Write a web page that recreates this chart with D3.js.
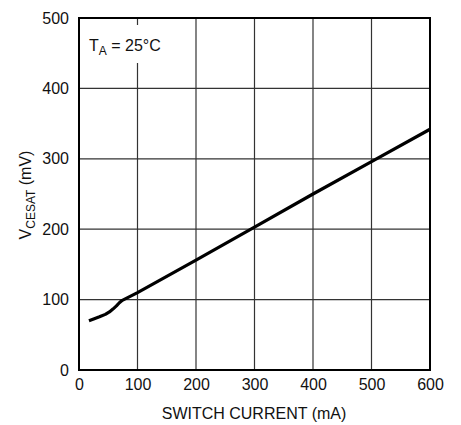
<!DOCTYPE html>
<html>
<head>
<meta charset="utf-8">
<script src="https://cdn.jsdelivr.net/npm/d3@7"></script>
<style>
  html, body { margin: 0; padding: 0; background: #fff; }
  svg { display: block; }
  text { font-family: "Liberation Sans", Arial, sans-serif; fill: #111; }
</style>
</head>
<body>
<svg id="chart" width="461" height="425"></svg>
<script>
// Switch current (mA) vs. collector-emitter saturation voltage (mV)
const switchCurrent = [17, 25, 35, 45, 52, 58, 64, 69, 74, 100, 200, 300, 400, 500, 600];
const vcesat        = [70, 72.5, 75.5, 79, 82.5, 86.5, 91, 95.5, 99, 110, 156, 203, 250, 296, 342];
const xTicks = [0, 100, 200, 300, 400, 500, 600];
const yTicks = [0, 100, 200, 300, 400, 500];

const svg = d3.select("#chart");
const plotL = 79, plotR = 430, plotT = 18, plotB = 370;

const x = d3.scaleLinear().domain([0, 600]).range([plotL, plotR]);
const y = d3.scaleLinear().domain([0, 500]).range([plotB, plotT]);

// grid
const grid = svg.append("g").attr("stroke", "#333").attr("stroke-width", 1.2);
grid.selectAll(".vx").data(xTicks.slice(1, -1)).join("line")
  .attr("x1", d => x(d)).attr("x2", d => x(d))
  .attr("y1", plotT).attr("y2", plotB);
grid.selectAll(".hy").data(yTicks.slice(1, -1)).join("line")
  .attr("x1", plotL).attr("x2", plotR)
  .attr("y1", d => y(d)).attr("y2", d => y(d));

// axes (labels only, frame drawn separately)
const xAxis = svg.append("g").attr("transform", `translate(0,${plotB})`)
  .call(d3.axisBottom(x).tickValues(xTicks).tickSize(0).tickPadding(9));
const yAxis = svg.append("g").attr("transform", `translate(${plotL},0)`)
  .call(d3.axisLeft(y).tickValues(yTicks).tickSize(0).tickPadding(10));
[xAxis, yAxis].forEach(a => {
  a.select(".domain").remove();
  a.selectAll("text").attr("font-size", 16).attr("font-family", "Liberation Sans, Arial, sans-serif").attr("fill", "#111");
});

// annotation with white backing
const ann = svg.append("g");
ann.append("rect").attr("x", 86).attr("y", 25).attr("width", 72).attr("height", 38).attr("fill", "#fff");
const t = ann.append("text").attr("x", 89).attr("y", 51).attr("font-size", 16);
t.append("tspan").text("T");
t.append("tspan").attr("font-size", 12).attr("dy", 4).text("A");
t.append("tspan").attr("dy", -4).text(" = 25°C");

// frame
svg.append("rect").attr("x", plotL).attr("y", plotT)
  .attr("width", plotR - plotL).attr("height", plotB - plotT)
  .attr("fill", "none").attr("stroke", "#000").attr("stroke-width", 2);

// curve
const line = d3.line().x((d, i) => x(switchCurrent[i])).y(d => y(d)).curve(d3.curveLinear);
svg.append("path").datum(vcesat).attr("d", line)
  .attr("fill", "none").attr("stroke", "#000").attr("stroke-width", 3.2)
  .attr("stroke-linejoin", "round");

// axis titles
svg.append("text").attr("x", 254).attr("y", 419).attr("text-anchor", "middle")
  .attr("font-size", 16).text("SWITCH CURRENT (mA)");
const yl = svg.append("text").attr("transform", "translate(31,195) rotate(-90)")
  .attr("text-anchor", "middle").attr("font-size", 16);
yl.append("tspan").text("V");
yl.append("tspan").attr("font-size", 12).attr("dy", 4).text("CESAT");
yl.append("tspan").attr("dy", -4).text(" (mV)");
</script>
</body>
</html>
